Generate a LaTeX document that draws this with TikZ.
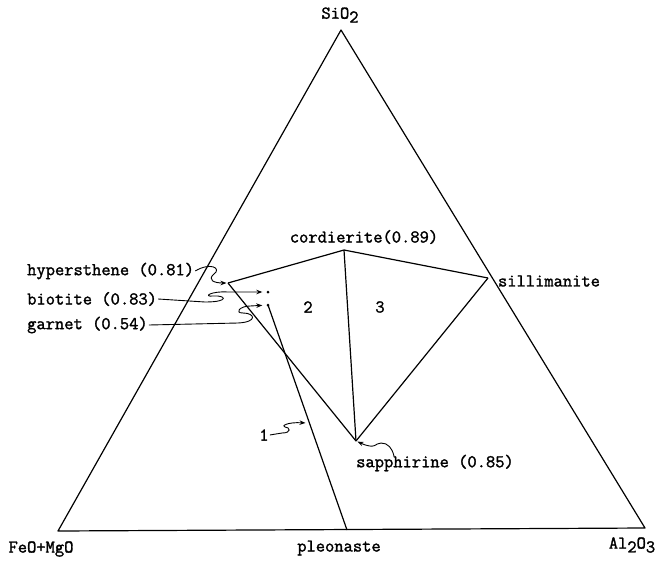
\documentclass[tikz,border=0pt]{standalone}
\usepackage{fontspec}
\newfontfamily\typew[FakeBold=1.6]{Latin Modern Mono}
\usetikzlibrary{positioning, arrows.meta}
\newcommand{\lowr}[1]{\raisebox{-0.5ex}{#1}}

\begin{document}
\begin{tikzpicture}[
  x=1pt, y=-1pt,
  font=\typew\fontsize{18}{20}\selectfont,
  % Estilos de lineas
  edge/.style={draw, line width=1.2pt, line join=round},
  leader/.style={draw, line width=0.9pt, -{Stealth[length=6pt, width=4.5pt]}, shorten >=1.5pt},
  % Estilos de etiquetas
  lbl/.style={inner sep=1pt},
  dot/.style={circle, fill=black, inner sep=0pt, minimum size=3pt}
]
  \useasboundingbox (0,0) rectangle (669,560);

  % ==========================================
  % TRIANGLE CORNERS
  % ==========================================
  \coordinate (sio) at (341,30);
  \coordinate (femg) at (58,531);
  \coordinate (alo) at (645,528);
  \coordinate (ple) at (347,530);

  % Phase points
  \coordinate (crd) at (344,250);
  \coordinate (sil) at (488,278);
  \coordinate (hyp) at (228,283);
  \coordinate (spr) at (356,441);
  \node[dot] (bio) at (268,292) {};
  \node[dot] (grt) at (268,305) {};

  % Frame
  \draw[edge] (sio) -- (femg) -- (alo) -- cycle;

  % Tie lines
  \draw[edge] (hyp) -- (crd) -- (sil);
  \draw[edge] (crd) -- (spr);
  \draw[edge] (sil) -- (spr);
  \draw[edge] (hyp) -- (spr);
  \draw[edge] (grt.center) -- (ple);

  % ==========================================
  % LABELS
  % ==========================================
  \node[lbl] (lsio) at (340,15) {SiO\lowr{2}};
  \node[lbl] (lfemg) at (41,549) {FeO+MgO};
  \node[lbl] (lple) at (339,548) {pleonaste};
  \node[lbl] (lalo) at (632,545) {Al\lowr{2}O\lowr{3}};
  \node[lbl] (lcrd) at (364,237) {cordierite(0.89)};
  \node[lbl] (lsil) at (549,281) {sillimanite};
  \node[lbl, anchor=west] (lhyp) at (26,271) {hypersthene (0.81)};
  \node[lbl, anchor=west] (lbio) at (26,299) {biotite (0.83)};
  \node[lbl, anchor=west] (lgrt) at (26,325) {garnet (0.54)};
  \node[lbl] (lspr) at (435,463) {sapphirine (0.85)};

  % Field numbers
  \node[lbl] (one) at (264,435) {1};
  \node[lbl] (two) at (308,307) {2};
  \node[lbl] (three) at (380,307) {3};

  % Leaders
  \draw[leader] (lhyp.east) .. controls (210,262) and (222,268) .. (214,274)
    .. controls (207,280) and (214,283) .. (hyp);
  \draw[leader, shorten >=4pt] (lbio.east) -- (205,302) .. controls (230,302) and (226,295) .. (213,296)
    .. controls (203,297) and (210,291) .. (228,292) -- (bio);
  \draw[leader, shorten >=4pt] (lgrt.east) -- (238,323) .. controls (258,322) and (255,313) .. (243,313)
    .. controls (234,313) and (240,306) .. (250,306) -- (grt);
  \draw[leader] (one.east) -- (282,433) .. controls (292,433) and (290,427) .. (285,427)
    .. controls (281,426) and (287,422) .. (307,423);
  \draw[leader] (394,456) .. controls (392,448) and (388,443) .. (381,443)
    .. controls (375,443) and (376,450) .. (spr);

\end{tikzpicture}
\end{document}
